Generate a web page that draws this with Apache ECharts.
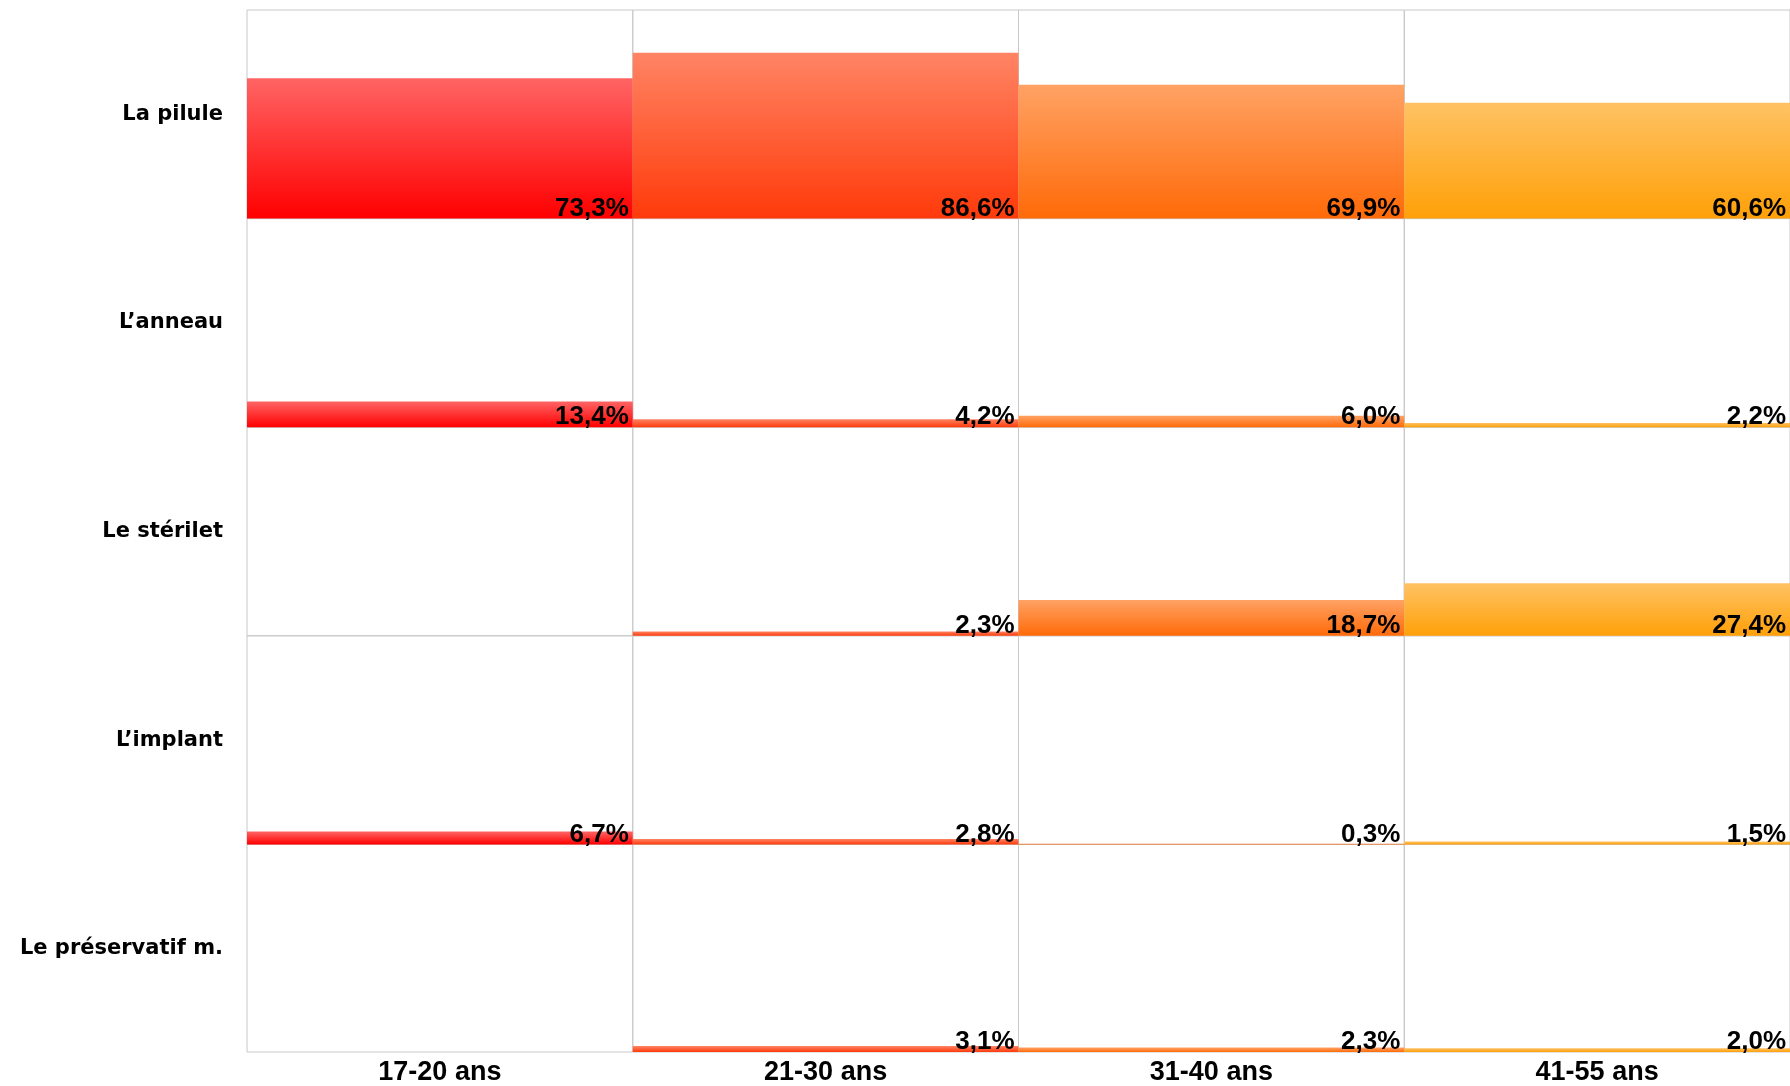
<!DOCTYPE html>
<html>
<head>
<meta charset="utf-8">
<script src="https://cdn.jsdelivr.net/npm/echarts@6/dist/echarts.min.js"></script>
<style>
html,body{margin:0;padding:0;background:#fff;}
#chart{width:1790px;height:1086px;}
</style>
</head>
<body>
<div id="chart"></div>
<script>
// Methods (rows) and age groups (columns)
const methods = ['La pilule', 'L\u2019anneau', 'Le stérilet', 'L\u2019implant', 'Le préservatif m.'];
const ageGroups = ['17-20 ans', '21-30 ans', '31-40 ans', '41-55 ans'];

// Values per age group, in the order of `methods` (null = no bar)
const age17_20 = [73.3, 13.4, null, 6.7, null];
const age21_30 = [86.6, 4.2, 2.3, 2.8, 3.1];
const age31_40 = [69.9, 6.0, 18.7, 0.3, 2.3];
const age41_55 = [60.6, 2.2, 27.4, 1.5, 2.0];
const seriesValues = [age17_20, age21_30, age31_40, age41_55];

// Gradient colours per age group [top, bottom]
const colTop = ['#ff6464', '#ff8464', '#ffa264', '#ffc264'];
const colBottom = ['#ff0000', '#ff3a0a', '#ff6a08', '#ffa008'];

const chart = echarts.init(document.getElementById('chart'));

const L = 247, R = 1790, T = 10, B = 1053;
const nRows = methods.length, nCols = ageGroups.length;
const cw = (R - L) / nCols, rh = (B - T) / nRows;

const grids = [], xAxes = [], yAxes = [], series = [];
const narrow = '"Liberation Sans Narrow", "Arial Narrow", "Liberation Sans", Arial, sans-serif';

for (let r = 0; r < nRows; r++) {
  for (let c = 0; c < nCols; c++) {
    const idx = r * nCols + c;
    grids.push({
      left: L + c * cw, top: T + r * rh, width: cw, height: rh,
      show: true, borderColor: '#c8c8c8', borderWidth: 1, backgroundColor: 'transparent'
    });
    xAxes.push({
      type: 'category', gridIndex: idx, data: [ageGroups[c]],
      axisLine: {show: false}, axisTick: {show: false},
      axisLabel: {
        show: r === nRows - 1, margin: 7, color: '#000',
        fontFamily: narrow, fontWeight: 'bold', fontSize: 27
      }
    });
    yAxes.push({
      type: 'value', gridIndex: idx, min: 0, max: 109,
      axisLine: {show: false}, axisTick: {show: false}, axisLabel: {show: false},
      splitLine: {show: false},
      name: c === 0 ? methods[r] : '',
      nameLocation: 'middle', nameRotate: 0, nameGap: 24,
      nameTextStyle: {
        align: 'right', verticalAlign: 'middle', color: '#000',
        fontFamily: 'Verdana, "DejaVu Sans", sans-serif', fontWeight: 'bold', fontSize: 21
      }
    });
    const v = seriesValues[c][r];
    series.push({
      type: 'bar', xAxisIndex: idx, yAxisIndex: idx,
      barWidth: '100%', barCategoryGap: 0,
      data: [v],
      itemStyle: {
        color: new echarts.graphic.LinearGradient(0, 0, 0, 1, [
          {offset: 0, color: colTop[c]}, {offset: 1, color: colBottom[c]}
        ])
      },
      label: {
        show: v != null, position: 'insideBottomRight', distance: 4, offset: [0, 7],
        color: '#000', fontFamily: narrow, fontWeight: 'bold', fontSize: 26,
        formatter: p => p.value.toFixed(1).replace('.', ',') + '%'
      },
      silent: true, animation: false
    });
  }
}

chart.setOption({
  animation: false,
  grid: grids, xAxis: xAxes, yAxis: yAxes, series: series
});
</script>
</body>
</html>
